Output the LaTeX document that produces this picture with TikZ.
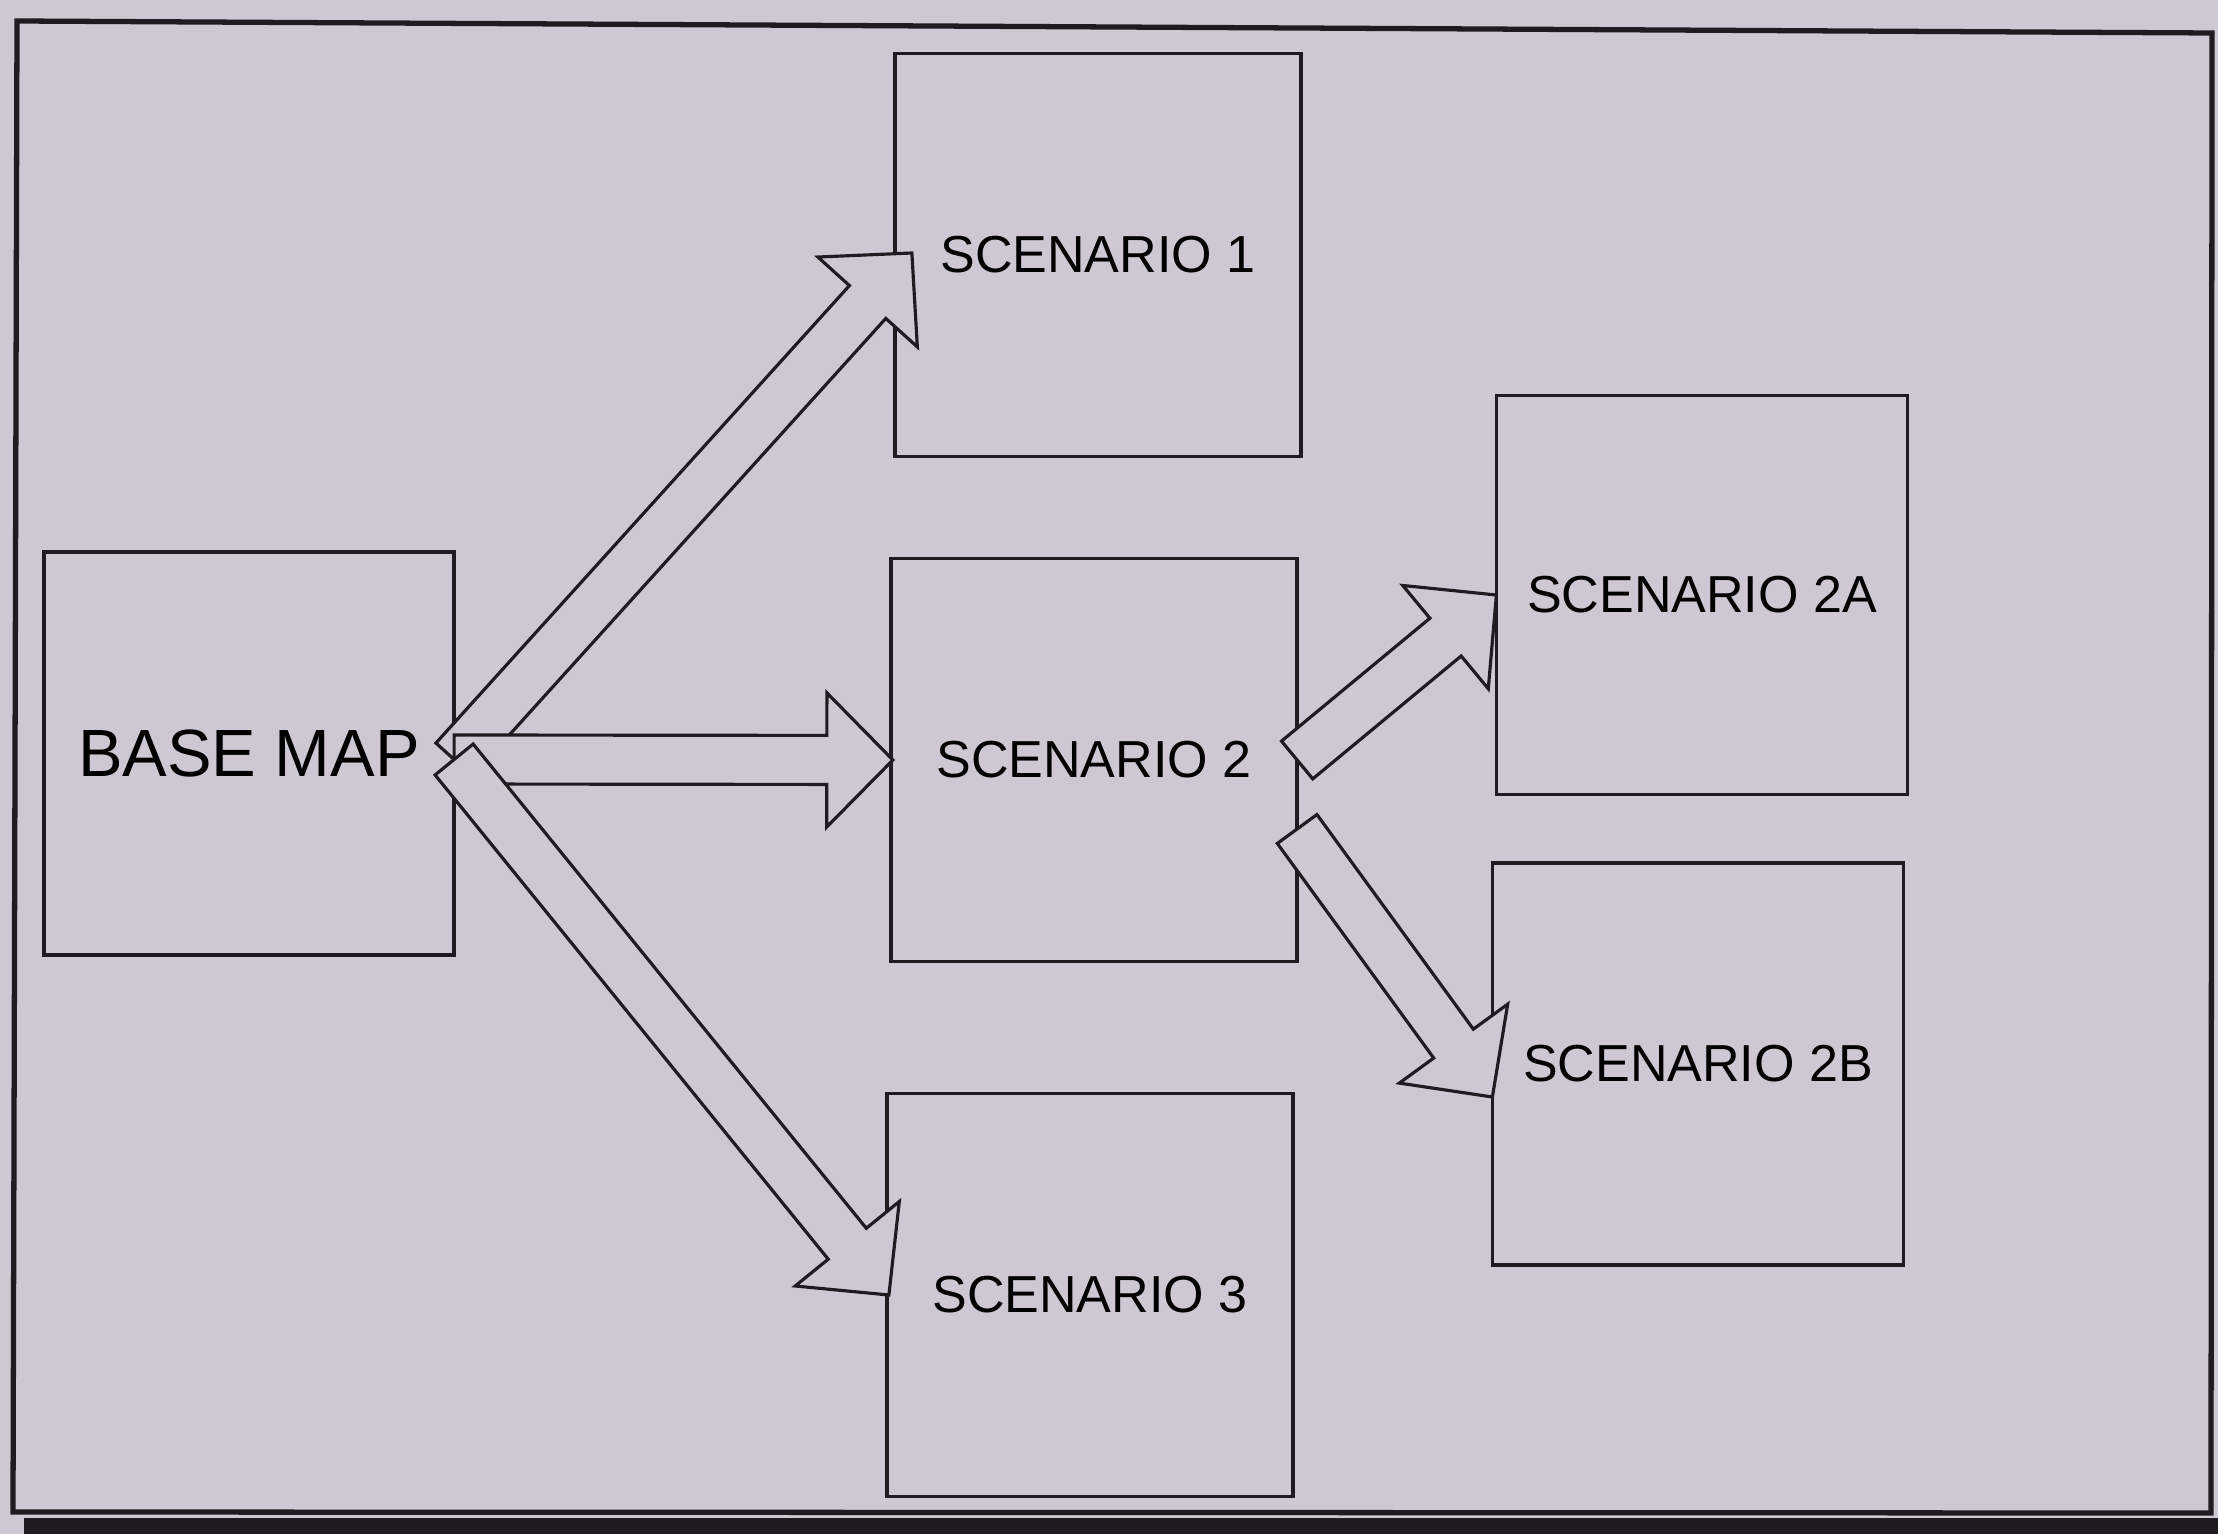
\documentclass[tikz,border=0pt]{standalone}
\usepackage{fontspec}
\setmainfont{Liberation Sans}
\usetikzlibrary{calc}
\definecolor{paper}{RGB}{205,200,211}
\definecolor{ink}{RGB}{30,28,34}
\tikzset{
  mapbox/.style={draw=ink, line width=1pt, fill=paper, rectangle, inner sep=0pt, outer sep=0pt,
    minimum width=4.06cm, minimum height=4.03cm, font=\fontsize{14.8pt}{16pt}\selectfont},
  blockarr/.style={draw=ink, line width=0.9pt, fill=paper, line join=miter},
}
\newcommand{\blockarrow}[2]{%
  \coordinate (tmpH) at ($(#2)!0.66cm!(#1)$);
  \draw[blockarr] ($(#1)!0.245cm!90:(#2)$) -- ($(tmpH)!0.245cm!90:(#2)$) -- ($(tmpH)!0.67cm!90:(#2)$)
    -- (#2) -- ($(tmpH)!0.67cm!-90:(#2)$) -- ($(tmpH)!0.245cm!-90:(#2)$) -- ($(#1)!0.245cm!-90:(#2)$) -- cycle;
}
\begin{document}
\begin{tikzpicture}[x=0.01cm, y=-0.01cm]
  \useasboundingbox (0,0) rectangle (2218,1534);
  \fill[paper] (0,0) rectangle (2218,1534);
  % outer frame and page edge
  \draw[ink, line width=1.5pt] (17,21) -- (2212,33) -- (2211,1513) -- (13,1512) -- cycle;
  \fill[ink] (24,1518) rectangle (2218,1534);

  % boxes
  \node[mapbox, minimum width=4.10cm, font=\fontsize{19pt}{21pt}\selectfont] (base) at (249,753.5) {BASE MAP};
  \node[mapbox] (s1) at (1098,255) {SCENARIO 1};
  \node[mapbox] (s2) at (1094,760) {SCENARIO 2};
  \node[mapbox] (s3) at (1090,1295) {SCENARIO 3};
  \node[mapbox, minimum width=4.11cm, minimum height=3.99cm] (s2a) at (1702,595) {SCENARIO 2A};
  \node[mapbox, minimum width=4.11cm, minimum height=4.02cm] (s2b) at (1698,1064) {SCENARIO 2B};

  % arrow end points
  \coordinate (tail1) at ($(base.east)+(0,6)$);
  \coordinate (tip1) at ($(s1.west)+(17,-2)$);
  \coordinate (tip2) at ($(s2.west)+(2,0)$);
  \coordinate (tip3) at ($(s3.west)+(2,0)$);
  \coordinate (tail5) at ($(s2.east)+(0,69)$);
  \coordinate (tip5) at ($(s2b.west)+(0,33)$);

  % block arrows
  \blockarrow{tail1}{tip1}
  \blockarrow{tail1}{tip2}
  \blockarrow{tail1}{tip3}
  \blockarrow{s2.east}{s2a.west}
  \blockarrow{tail5}{tip5}
\end{tikzpicture}
\end{document}
